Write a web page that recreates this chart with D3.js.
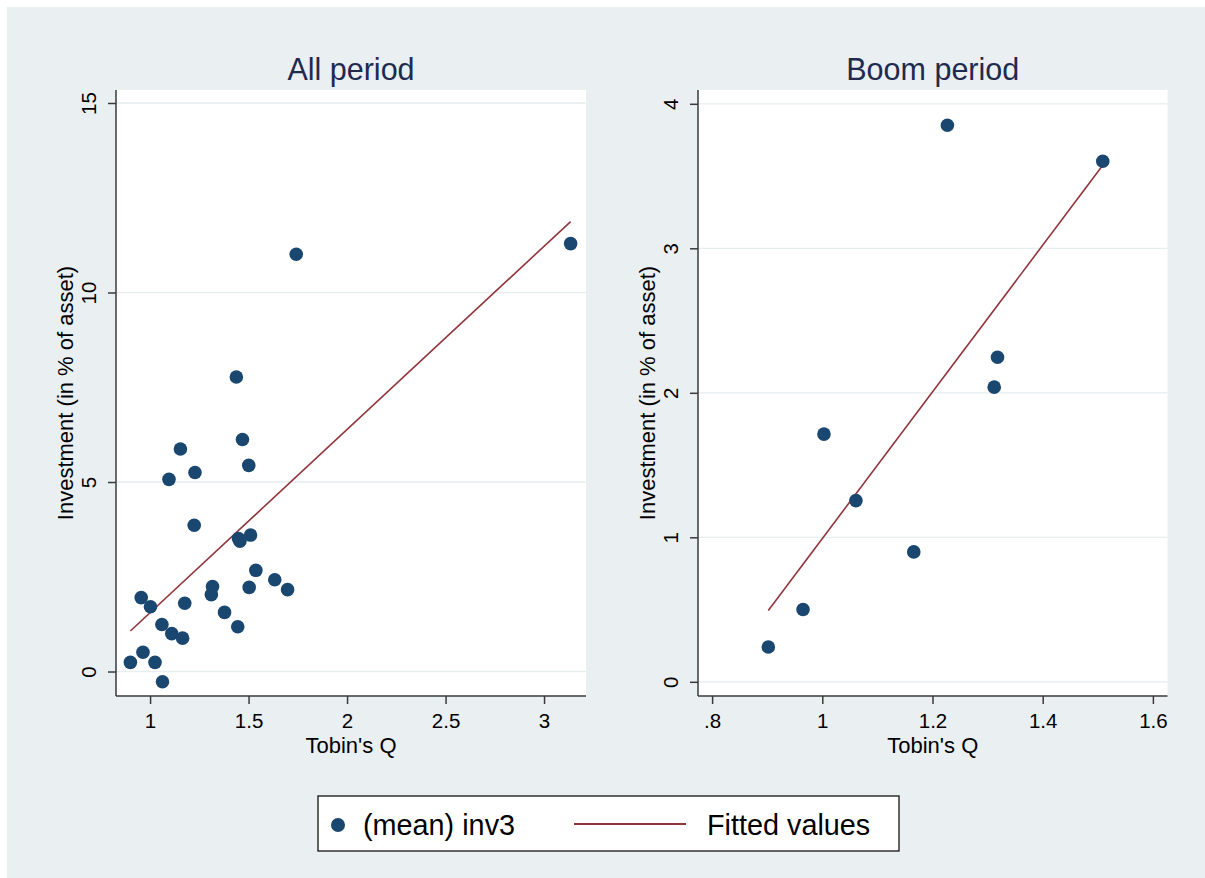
<!DOCTYPE html>
<html>
<head>
<meta charset="utf-8">
<script src="https://cdn.jsdelivr.net/npm/d3@7"></script>
<style>
  html, body { margin: 0; padding: 0; background: #ffffff; }
  svg { display: block; }
  text { font-family: "Liberation Sans", Arial, Helvetica, sans-serif; }
</style>
</head>
<body>
<svg id="chart" width="1205" height="878"></svg>
<script>
// Tobin's Q against mean investment (inv3), all years and boom years
const allQ   = [0.900, 0.964, 1.025, 1.063, 0.955, 1.002, 1.060, 1.110, 1.165, 1.176,
                1.096, 1.154, 1.228, 1.224, 1.317, 1.311, 1.378, 1.445, 1.438, 1.469,
                1.501, 1.449, 1.456, 1.510, 1.503, 1.537, 1.633, 1.698, 1.742, 3.135];
const allInv = [0.24, 0.51, 0.24, -0.27, 1.95, 1.71, 1.24, 1.00, 0.88, 1.80,
                5.07, 5.87, 5.25, 3.86, 2.24, 2.03, 1.56, 1.18, 7.77, 6.12,
                5.44, 3.51, 3.44, 3.60, 2.22, 2.67, 2.42, 2.16, 11.01, 11.29];

const boomQ   = [0.902, 0.965, 1.003, 1.061, 1.166, 1.227, 1.312, 1.318, 1.509];
const boomInv = [0.241, 0.500, 1.714, 1.254, 0.899, 3.852, 2.039, 2.246, 3.602];

const allXTicks  = [1, 1.5, 2, 2.5, 3];
const allYTicks  = [0, 5, 10, 15];
const boomXTicks = [0.8, 1, 1.2, 1.4, 1.6];
const boomYTicks = [0, 1, 2, 3, 4];

const panelTitles = ["All period", "Boom period"];
const xTitle = "Tobin's Q";
const yTitle = "Investment (in % of asset)";
const legendLabels = ["(mean) inv3", "Fitted values"];

const navy = "#1a476f";
const maroon = "#90353b";
const bg = "#eaeff2";
const axisColor = "#3a3a3a";

const svg = d3.select("#chart");

// outer graph region
svg.append("rect").attr("x", 7).attr("y", 7).attr("width", 1198).attr("height", 871).attr("fill", bg);

// simple least-squares fit
function ols(xs, ys) {
  const n = xs.length;
  const mx = d3.mean(xs), my = d3.mean(ys);
  let sxy = 0, sxx = 0;
  for (let i = 0; i < n; i++) { sxy += (xs[i] - mx) * (ys[i] - my); sxx += (xs[i] - mx) ** 2; }
  const b = sxy / sxx;
  return x => my + b * (x - mx);
}

function fmtTick(v) {
  const s = String(+v.toFixed(2));
  return s.startsWith("0.") ? s.slice(1) : s;
}

function panel(cfg) {
  const { left, right, top, bottom, xDomain, yDomain, xs, ys, xTicks, yTicks, title } = cfg;
  const x = d3.scaleLinear().domain(xDomain).range([left, right]);
  const y = d3.scaleLinear().domain(yDomain).range([bottom, top]);
  const g = svg.append("g");

  g.append("rect").attr("x", left).attr("y", top)
    .attr("width", right - left).attr("height", bottom - top).attr("fill", "#ffffff");

  // horizontal grid
  g.append("g").selectAll("line").data(yTicks).join("line")
    .attr("x1", left).attr("x2", right)
    .attr("y1", d => y(d)).attr("y2", d => y(d))
    .attr("stroke", "#e6eef0").attr("stroke-width", 1.3);

  // y axis
  const yAxis = g.append("g").attr("transform", `translate(${left},0)`)
    .call(d3.axisLeft(y).tickValues(yTicks).tickSize(8).tickPadding(0).tickFormat(fmtTick));
  yAxis.select(".domain").attr("d", `M0,${bottom}V${top}`).attr("stroke", axisColor).attr("stroke-width", 1.5);
  yAxis.selectAll(".tick line").attr("stroke", axisColor).attr("stroke-width", 1.5);
  yAxis.selectAll(".tick text")
    .attr("x", 0).attr("dy", null)
    .attr("transform", "translate(-28,0) rotate(-90)")
    .attr("text-anchor", "middle").attr("dominant-baseline", "central")
    .attr("font-size", 20.5).attr("fill", "#000");

  // x axis
  const xAxis = g.append("g").attr("transform", `translate(0,${bottom})`)
    .call(d3.axisBottom(x).tickValues(xTicks).tickSize(8).tickPadding(0).tickFormat(fmtTick));
  xAxis.select(".domain").attr("d", `M${left},0H${right}`).attr("stroke", axisColor).attr("stroke-width", 1.5);
  xAxis.selectAll(".tick line").attr("stroke", axisColor).attr("stroke-width", 1.5);
  xAxis.selectAll(".tick text").attr("y", 32).attr("dy", null)
    .attr("font-size", 20.5).attr("fill", "#000");

  // fitted line
  const f = ols(xs, ys);
  const x0 = d3.min(xs), x1 = d3.max(xs);
  g.append("line")
    .attr("x1", x(x0)).attr("y1", y(f(x0)))
    .attr("x2", x(x1)).attr("y2", y(f(x1)))
    .attr("stroke", maroon).attr("stroke-width", 1.6);

  // points
  g.append("g").selectAll("circle").data(xs.map((v, i) => [v, ys[i]])).join("circle")
    .attr("cx", d => x(d[0])).attr("cy", d => y(d[1])).attr("r", 6.8)
    .attr("fill", navy);

  // titles
  g.append("text").attr("x", (left + right) / 2).attr("y", 80)
    .attr("text-anchor", "middle").attr("font-size", 30.5).attr("fill", "#1e2a4e")
    .text(title);
  g.append("text").attr("x", (left + right) / 2).attr("y", 752.5)
    .attr("text-anchor", "middle").attr("font-size", 22).attr("fill", "#000")
    .text(xTitle);
  g.append("text")
    .attr("transform", `translate(${left - 51},${(top + bottom) / 2}) rotate(-90)`)
    .attr("text-anchor", "middle").attr("dominant-baseline", "central")
    .attr("font-size", 22).attr("fill", "#000")
    .text(yTitle);
}

panel({ left: 116, right: 586, top: 90, bottom: 696,
        xDomain: [0.827, 3.213], yDomain: [-0.646, 15.343],
        xs: allQ, ys: allInv, xTicks: allXTicks, yTicks: allYTicks, title: panelTitles[0] });

panel({ left: 698, right: 1167.5, top: 90, bottom: 696,
        xDomain: [0.7744, 1.6265], yDomain: [-0.0983, 4.0955],
        xs: boomQ, ys: boomInv, xTicks: boomXTicks, yTicks: boomYTicks, title: panelTitles[1] });

// legend
const lg = svg.append("g");
lg.append("rect").attr("x", 318).attr("y", 796).attr("width", 581).attr("height", 55)
  .attr("fill", "#fff").attr("stroke", "#111").attr("stroke-width", 1.3);
lg.append("circle").attr("cx", 338).attr("cy", 825).attr("r", 7).attr("fill", navy);
lg.append("text").attr("x", 363).attr("y", 835).attr("font-size", 28.8).attr("fill", "#000").text(legendLabels[0]);
lg.append("line").attr("x1", 574).attr("x2", 686).attr("y1", 824).attr("y2", 824)
  .attr("stroke", maroon).attr("stroke-width", 2.2);
lg.append("text").attr("x", 707).attr("y", 835).attr("font-size", 28.8).attr("fill", "#000").text(legendLabels[1]);
</script>
</body>
</html>
